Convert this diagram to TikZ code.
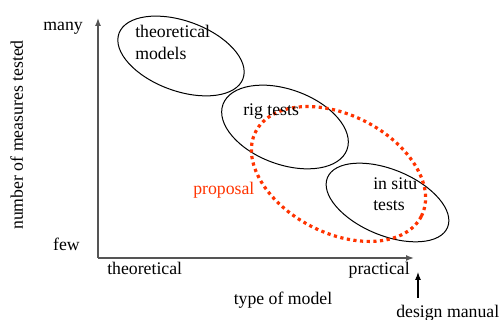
\documentclass[tikz,border=0pt]{standalone}
\usepackage{fontspec}
\setmainfont{Liberation Serif}
\usetikzlibrary{arrows.meta}
\definecolor{propred}{HTML}{FF3300}
\definecolor{axisgray}{HTML}{555555}
\tikzset{
  lbl/.style={inner sep=0pt, font=\fontsize{13.3}{15.5}\selectfont},
  axis/.style={draw=axisgray, line width=1.1pt, -{Latex[length=6pt,width=4.5pt]}},
  oval/.style={draw=black, line width=0.75pt},
  propoval/.style={draw=propred, line width=2.4pt, dash pattern=on 2.4pt off 2.6pt},
}
\begin{document}
\begin{tikzpicture}[x=0.75pt,y=0.75pt]
\useasboundingbox (0,0) rectangle (501,320);
% axes (y measured upward: y_tikz = 320 - y_px)
\coordinate (origin) at (98,62);
\coordinate (ytop) at (98,302);
\coordinate (xend) at (414,62);
\draw[axis] (origin) -- (ytop);
\draw[axis] (origin) -- (xend);
% ellipses
\draw[oval] (181,264) circle[x radius=66, y radius=35, rotate=-20];
\draw[oval] (285,193) circle[x radius=66, y radius=37.5, rotate=-20];
\draw[oval] (387.5,117.5) circle[x radius=65, y radius=33, rotate=-22.5];
\draw[propoval] (338.5,146) circle[x radius=93, y radius=59, rotate=-27];
% texts
\node[lbl, anchor=base west] (tm1) at (135,282) {theoretical};
\node[lbl, anchor=base west] (tm2) at (135,260) {models};
\node[lbl, anchor=base west] (rig) at (243,204) {rig tests};
\node[lbl, anchor=base west] (is1) at (373,130) {in situ};
\node[lbl, anchor=base west] (is2) at (373,109) {tests};
\node[lbl, anchor=base west, text=propred] (prop) at (193,125) {proposal};
\node[lbl, anchor=base east] (many) at (83,289) {many};
\node[lbl, anchor=base east] (few) at (80,69) {few};
\node[lbl, anchor=base west] (xth) at (107,45) {theoretical};
\node[lbl, anchor=base east] (xpr) at (410,45) {practical};
\node[lbl, anchor=base] (xlab) at (283,15) {type of model};
\node[lbl, anchor=base west] (dm) at (396,2) {design manual};
\node[lbl, rotate=90, anchor=base] (ylab) at (23,185) {number of measures tested};
\coordinate (dmarrow) at (418,22);
\coordinate (dmtip) at (418,48);
\draw[line width=0.8pt, -{Latex[length=6pt,width=4.5pt]}] (dmarrow) -- (dmtip);
\end{tikzpicture}
\end{document}
